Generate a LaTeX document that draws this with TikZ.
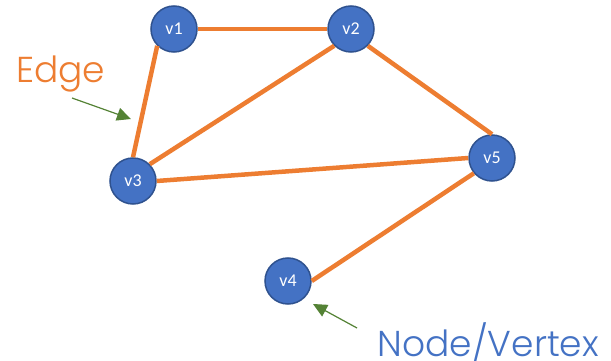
\documentclass[tikz,border=0pt]{standalone}
\usepackage{fontspec}
\setmainfont{Carlito}
\newfontfamily\labelfont{Poppins}[UprightFont=* Light]
\usetikzlibrary{arrows.meta}
\definecolor{vfill}{HTML}{4472C4}
\definecolor{vline}{HTML}{2F528F}
\definecolor{edgec}{HTML}{ED7D31}
\definecolor{pointer}{HTML}{548235}
\begin{document}
\begin{tikzpicture}[x=1pt,y=-1pt,
  vertex/.style={circle, fill=vfill, draw=vline, line width=1.5pt,
    minimum size=46pt, inner sep=0pt, text=white, font=\fontsize{18}{18}\selectfont},
  link/.style={draw=edgec, line width=4.5pt},
  pointer/.style={draw=pointer, line width=1.2pt,
    -{Triangle[length=14pt,width=13pt]}}]
\useasboundingbox (0,0) rectangle (611,361);
% vertices
\node[vertex] (v1) at (174,29) {v1};
\node[vertex] (v2) at (351,29) {v2};
\node[vertex] (v3) at (133,181) {v3};
\node[vertex] (v5) at (492,158) {v5};
\node[vertex] (v4) at (288,281) {v4};
% edges
\draw[link] (v1.east) -- (v2.west);
\draw[link] (v1.225) -- (v3.north);
\draw[link] (v2.225) -- (v3.45);
\draw[link] (v2.315) -- (v5.north);
\draw[link] (v3.east) -- (v5.west);
\draw[link] (v5.220) -- (v4.east);
% labels
\node[text=edgec, font=\labelfont\fontsize{36}{36}\selectfont, anchor=base west, inner sep=0pt] (elabel) at (16,83) {Edge};
\node[text=vfill, font=\labelfont\fontsize{36}{36}\selectfont, anchor=base east, inner sep=0pt] (nlabel) at (599,356) {Node/Vertex};
\coordinate (etail) at (72,98);
\coordinate (ehead) at (131,119);
\coordinate (ntail) at (357,328);
\coordinate (nhead) at (313,304);
\draw[pointer] (etail) -- (ehead);
\draw[pointer] (ntail) -- (nhead);
\end{tikzpicture}
\end{document}
